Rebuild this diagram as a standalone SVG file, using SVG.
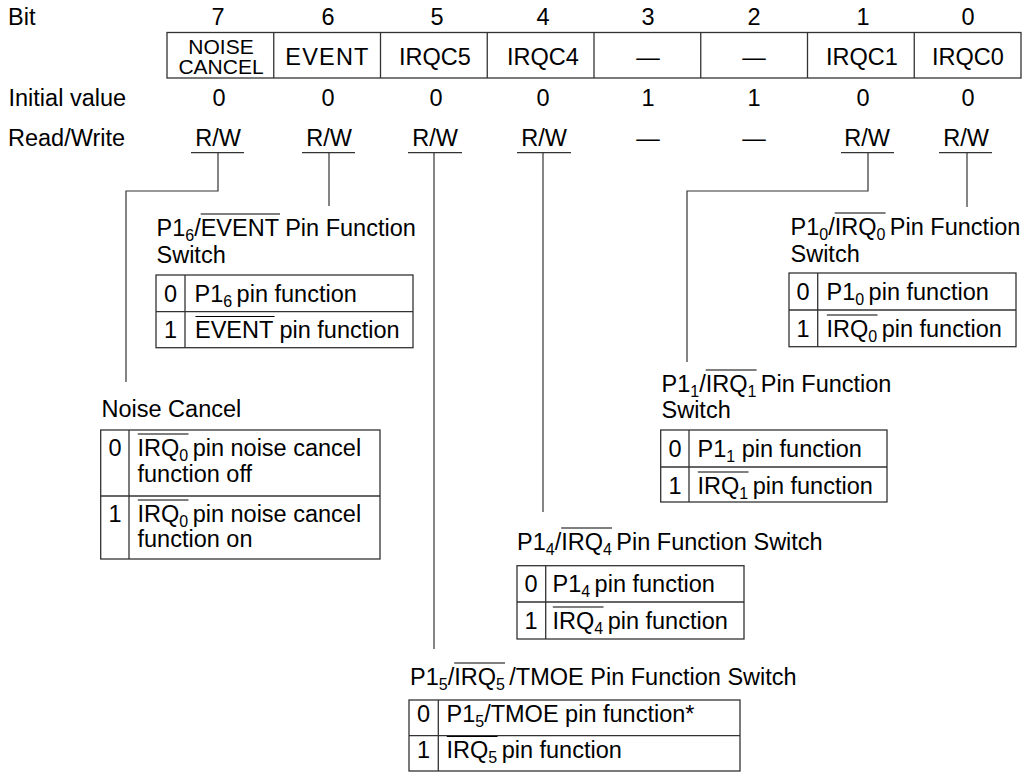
<svg xmlns="http://www.w3.org/2000/svg" width="1035" height="773" viewBox="0 0 1035 773">
<style>
text{font-family:"Liberation Sans",Arial,Helvetica,sans-serif;font-size:23.5px;fill:#000}
.c{text-anchor:middle}
.s{font-size:16px}
.nc{font-size:21px}
.ln{stroke:#333;stroke-width:1.2;fill:none}
.bx{stroke:#333;stroke-width:1.3;fill:none}
.ov{stroke:#000;stroke-width:1.1}
</style>
<rect width="1035" height="773" fill="#fff"/>
<g id="header">
<text x="8" y="25">Bit</text>
<text x="8.5" y="106">Initial value</text>
<text x="8" y="146">Read/Write</text>
<g class="c">
<text class="c" x="218" y="25">7</text><text class="c" x="328" y="25">6</text><text class="c" x="437" y="25">5</text><text class="c" x="543" y="25">4</text><text class="c" x="648" y="25">3</text><text class="c" x="754" y="25">2</text><text class="c" x="863" y="25">1</text><text class="c" x="968" y="25">0</text>
<text class="c" x="219" y="106">0</text><text class="c" x="328" y="106">0</text><text class="c" x="436" y="106">0</text><text class="c" x="543" y="106">0</text><text class="c" x="648" y="106">1</text><text class="c" x="754" y="106">1</text><text class="c" x="863" y="106">0</text><text class="c" x="968" y="106">0</text>
<text class="c" x="218" y="146">R/W</text><text class="c" x="329" y="146">R/W</text><text class="c" x="435" y="146">R/W</text><text class="c" x="544" y="146">R/W</text><text class="c" x="648" y="146">—</text><text class="c" x="754" y="146">—</text><text class="c" x="867" y="146">R/W</text><text class="c" x="966" y="146">R/W</text>
</g>
<g class="ln">
<line x1="191" y1="152.7" x2="244" y2="152.7"/><line x1="302" y1="152.7" x2="355" y2="152.7"/><line x1="408" y1="152.7" x2="462" y2="152.7"/><line x1="517" y1="152.7" x2="571" y2="152.7"/><line x1="841" y1="152.7" x2="894" y2="152.7"/><line x1="939" y1="152.7" x2="992" y2="152.7"/>
</g>
</g>
<g id="register">
<rect class="bx" x="167" y="32.5" width="854" height="45.5"/>
<g class="bx">
<line x1="273.75" y1="32.5" x2="273.75" y2="78"/><line x1="380.5" y1="32.5" x2="380.5" y2="78"/><line x1="487.25" y1="32.5" x2="487.25" y2="78"/><line x1="594" y1="32.5" x2="594" y2="78"/><line x1="700.75" y1="32.5" x2="700.75" y2="78"/><line x1="807.5" y1="32.5" x2="807.5" y2="78"/><line x1="914.25" y1="32.5" x2="914.25" y2="78"/>
</g>
<text class="c nc" x="221" y="53.5">NOISE</text>
<text class="c nc" x="221" y="73.5">CANCEL</text>
<text class="c" x="327.5" y="65" font-size="26" letter-spacing="1.2">EVENT</text>
<text class="c" x="435" y="65">IRQC5</text>
<text class="c" x="543" y="65">IRQC4</text>
<text class="c" x="648" y="65">—</text>
<text class="c" x="754" y="65">—</text>
<text class="c" x="862" y="65">IRQC1</text>
<text class="c" x="968" y="65">IRQC0</text>
</g>
<g id="connectors" class="ln">
<polyline points="218,153 218,191 126,191 126,382"/>
<line x1="329" y1="153" x2="329" y2="206"/>
<line x1="434" y1="153" x2="434" y2="649"/>
<line x1="543" y1="153" x2="543" y2="512"/>
<polyline points="868,153 868,191 687,191 687,362"/>
<line x1="967" y1="153" x2="967" y2="207"/>
</g>
<g id="event-switch">
<text x="156.5" y="236">P1<tspan class="s" dy="4.5">6</tspan><tspan dy="-4.5">/EVENT Pin Function</tspan></text>
<text x="156.5" y="263">Switch</text>
<line class="ov" x1="200.7" y1="214" x2="280" y2="214"/>
<rect class="bx" x="156" y="275" width="257" height="72.7"/>
<line class="bx" x1="156" y1="311.7" x2="413" y2="311.7"/>
<line class="bx" x1="185" y1="275" x2="185" y2="347.7"/>
<text class="c" x="170.5" y="302">0</text>
<text class="c" x="170.5" y="338">1</text>
<text x="194.5" y="302">P1<tspan class="s" dy="4.5">6 </tspan><tspan dy="-4.5">pin function</tspan></text>
<text x="195" y="338">EVENT pin function</text>
<line class="ov" x1="195.5" y1="316.5" x2="274.5" y2="316.5"/>
</g>
<g id="irq0-switch">
<text x="790.5" y="235">P1<tspan class="s" dy="4.5">0</tspan><tspan dy="-4.5">/IRQ</tspan><tspan class="s" dy="4.5">0 </tspan><tspan dy="-4.5">Pin Function</tspan></text>
<text x="790.5" y="262">Switch</text>
<line class="ov" x1="834.7" y1="213" x2="885.6" y2="213"/>
<rect class="bx" x="789" y="273" width="227" height="73.7"/>
<line class="bx" x1="789" y1="310" x2="1016" y2="310"/>
<line class="bx" x1="817.7" y1="273" x2="817.7" y2="346.7"/>
<text class="c" x="803" y="300">0</text>
<text class="c" x="803" y="337">1</text>
<text x="826.5" y="300">P1<tspan class="s" dy="4.5">0 </tspan><tspan dy="-4.5">pin function</tspan></text>
<text x="826.5" y="337">IRQ<tspan class="s" dy="4.5">0 </tspan><tspan dy="-4.5">pin function</tspan></text>
<line class="ov" x1="826.8" y1="315" x2="877.5" y2="315"/>
</g>
<g id="irq1-switch">
<text x="661.5" y="392">P1<tspan class="s" dy="4.5">1</tspan><tspan dy="-4.5">/IRQ</tspan><tspan class="s" dy="4.5">1 </tspan><tspan dy="-4.5">Pin Function</tspan></text>
<text x="661.5" y="418">Switch</text>
<line class="ov" x1="705.7" y1="370" x2="756.6" y2="370"/>
<rect class="bx" x="660.7" y="430" width="226.3" height="72"/>
<line class="bx" x1="660.7" y1="467" x2="887" y2="467"/>
<line class="bx" x1="689" y1="430" x2="689" y2="502"/>
<text class="c" x="675" y="457">0</text>
<text class="c" x="675" y="494">1</text>
<text x="697.5" y="457">P1<tspan class="s" dy="4.5">1</tspan><tspan dy="-4.5"> pin function</tspan></text>
<text x="697.5" y="494">IRQ<tspan class="s" dy="4.5">1 </tspan><tspan dy="-4.5">pin function</tspan></text>
<line class="ov" x1="697.8" y1="472" x2="748.5" y2="472"/>
</g>
<g id="noise-cancel">
<text x="101.5" y="417">Noise Cancel</text>
<rect class="bx" x="100.7" y="430" width="279.3" height="129"/>
<line class="bx" x1="100.7" y1="496" x2="380" y2="496"/>
<line class="bx" x1="129" y1="430" x2="129" y2="559"/>
<text class="c" x="115" y="456">0</text>
<text class="c" x="115" y="522">1</text>
<text x="137.5" y="456">IRQ<tspan class="s" dy="4.5">0 </tspan><tspan dy="-4.5">pin noise cancel</tspan></text>
<text x="137.5" y="482">function off</text>
<text x="137.5" y="522">IRQ<tspan class="s" dy="4.5">0 </tspan><tspan dy="-4.5">pin noise cancel</tspan></text>
<text x="137.5" y="547">function on</text>
<line class="ov" x1="137.8" y1="434" x2="188.5" y2="434"/>
<line class="ov" x1="137.8" y1="500" x2="188.5" y2="500"/>
</g>
<g id="irq4-switch">
<text x="517" y="550">P1<tspan class="s" dy="4.5">4</tspan><tspan dy="-4.5">/IRQ</tspan><tspan class="s" dy="4.5">4 </tspan><tspan dy="-4.5">Pin Function Switch</tspan></text>
<line class="ov" x1="561.2" y1="528" x2="612" y2="528"/>
<rect class="bx" x="517" y="565.7" width="227" height="73.3"/>
<line class="bx" x1="517" y1="602" x2="744" y2="602"/>
<line class="bx" x1="545.7" y1="565.7" x2="545.7" y2="639"/>
<text class="c" x="531" y="592">0</text>
<text class="c" x="531" y="629">1</text>
<text x="552.5" y="592">P1<tspan class="s" dy="4.5">4 </tspan><tspan dy="-4.5">pin function</tspan></text>
<text x="552.5" y="629">IRQ<tspan class="s" dy="4.5">4 </tspan><tspan dy="-4.5">pin function</tspan></text>
<line class="ov" x1="552.8" y1="607" x2="603.5" y2="607"/>
</g>
<g id="irq5-switch">
<text x="410" y="685">P1<tspan class="s" dy="4.5">5</tspan><tspan dy="-4.5">/IRQ</tspan><tspan class="s" dy="4.5">5 </tspan><tspan dy="-4.5">/TMOE Pin Function Switch</tspan></text>
<line class="ov" x1="454.2" y1="663" x2="505" y2="663"/>
<rect class="bx" x="409" y="700" width="331" height="71"/>
<line class="bx" x1="409" y1="735.7" x2="740" y2="735.7"/>
<line class="bx" x1="438.3" y1="700" x2="438.3" y2="771"/>
<text class="c" x="423.5" y="722">0</text>
<text class="c" x="423.5" y="758">1</text>
<text x="446.5" y="722">P1<tspan class="s" dy="4.5">5</tspan><tspan dy="-4.5">/TMOE pin function*</tspan></text>
<text x="446.5" y="758">IRQ<tspan class="s" dy="4.5">5 </tspan><tspan dy="-4.5">pin function</tspan></text>
<line class="ov" x1="446.8" y1="736.5" x2="497.5" y2="736.5"/>
</g>
</svg>
